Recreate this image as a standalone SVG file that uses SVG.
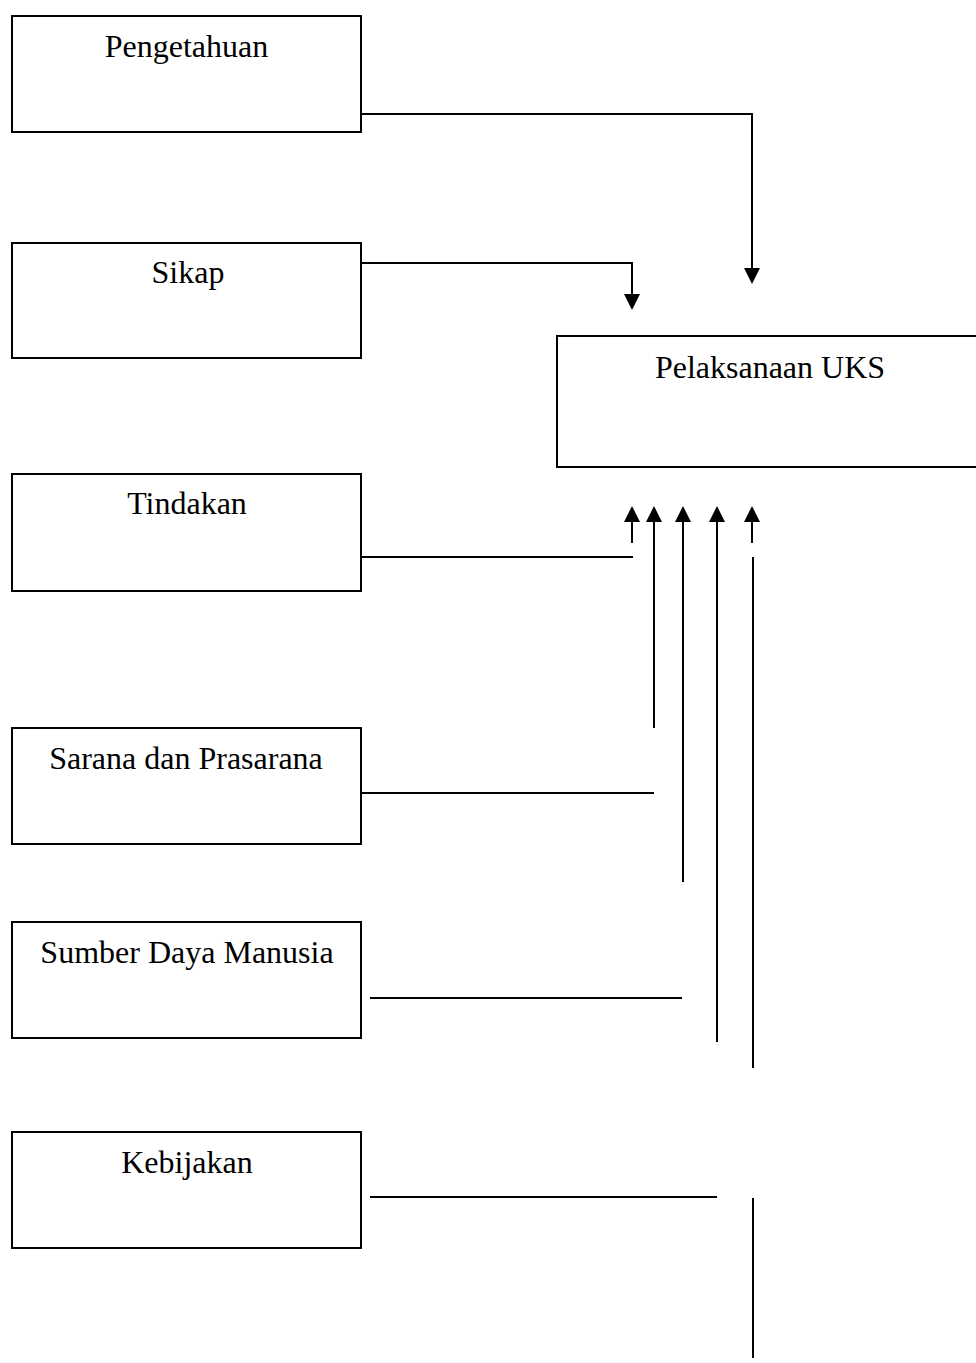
<svg xmlns="http://www.w3.org/2000/svg" width="976" height="1363" viewBox="0 0 976 1363">
<style>
.box{fill:#fff;stroke:#000;stroke-width:2}
.lbl{font-family:"Liberation Serif","Times New Roman",serif;font-size:32px;fill:#000;text-anchor:middle}
.c{fill:none;stroke:#000;stroke-width:2}
</style>
<defs>
<marker id="ah" viewBox="0 0 16 16" markerUnits="userSpaceOnUse" markerWidth="16" markerHeight="16" refX="0" refY="8" orient="auto">
<path d="M0,0 L16,8 L0,16 z" fill="#000"/>
</marker>
</defs>
<rect width="976" height="1363" fill="#fff"/>
<g id="node-pengetahuan"><rect class="box" x="12" y="16" width="349" height="116"/><text class="lbl" x="186.5" y="57">Pengetahuan</text></g>
<g id="node-sikap"><rect class="box" x="12" y="243" width="349" height="115"/><text class="lbl" x="188" y="283">Sikap</text></g>
<g id="node-tindakan"><rect class="box" x="12" y="474" width="349" height="117"/><text class="lbl" x="187" y="514">Tindakan</text></g>
<g id="node-sarana"><rect class="box" x="12" y="728" width="349" height="116"/><text class="lbl" x="186" y="769">Sarana dan Prasarana</text></g>
<g id="node-sdm"><rect class="box" x="12" y="922" width="349" height="116"/><text class="lbl" x="187" y="963">Sumber Daya Manusia</text></g>
<g id="node-kebijakan"><rect class="box" x="12" y="1132" width="349" height="116"/><text class="lbl" x="187" y="1173">Kebijakan</text></g>
<g id="node-uks"><rect class="box" x="557" y="336" width="430" height="131"/><text class="lbl" x="770" y="378">Pelaksanaan UKS</text></g>
<g id="connectors">
<polyline class="c" points="361,114 752,114 752,268" marker-end="url(#ah)"/>
<polyline class="c" points="361,263 632,263 632,294" marker-end="url(#ah)"/>
<line class="c" x1="632" y1="543" x2="632" y2="522" marker-end="url(#ah)"/>
<line class="c" x1="654" y1="728" x2="654" y2="522" marker-end="url(#ah)"/>
<line class="c" x1="683" y1="882" x2="683" y2="522" marker-end="url(#ah)"/>
<line class="c" x1="717" y1="1042" x2="717" y2="522" marker-end="url(#ah)"/>
<line class="c" x1="752" y1="543" x2="752" y2="522" marker-end="url(#ah)"/>
<line class="c" x1="361" y1="557" x2="633" y2="557"/>
<line class="c" x1="361" y1="793" x2="654" y2="793"/>
<line class="c" x1="370" y1="998" x2="682" y2="998"/>
<line class="c" x1="370" y1="1197" x2="717" y2="1197"/>
<line class="c" x1="753" y1="557" x2="753" y2="1068"/>
<line class="c" x1="753" y1="1198" x2="753" y2="1358"/>
</g>
</svg>
